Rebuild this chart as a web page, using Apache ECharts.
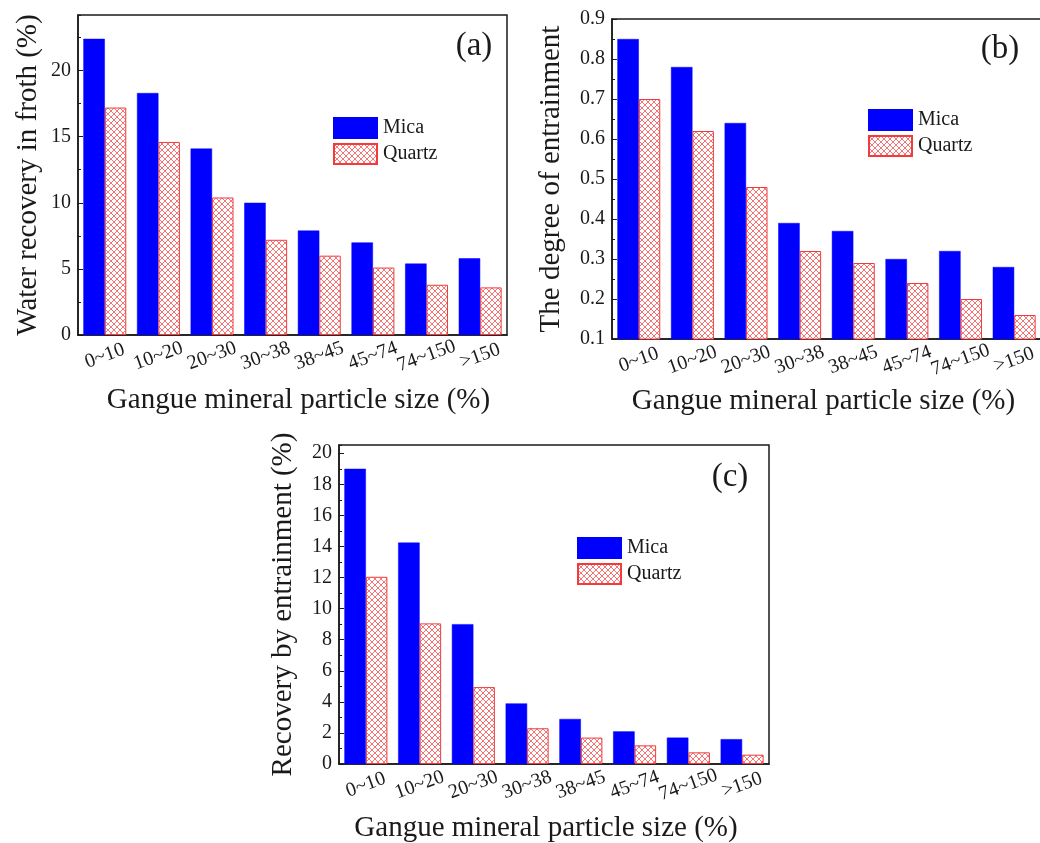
<!DOCTYPE html>
<html>
<head>
<meta charset="utf-8">
<script src="https://cdn.jsdelivr.net/npm/echarts@6/dist/echarts.min.js"></script>
<style>
  html, body { margin: 0; padding: 0; background: #fff; }
  #chart { width: 1040px; height: 843px; }
</style>
</head>
<body>
<div id="chart"></div>
<script>
// Particle size classes of the gangue minerals
const categories = ['0~10', '10~20', '20~30', '30~38', '38~45', '45~74', '74~150', '>150'];

// (a) Water recovery in froth (%)
const waterMica   = [22.4, 18.3, 14.1, 10.0, 7.9, 7.0, 5.4, 5.8];
const waterQuartz = [17.2, 14.6, 10.4, 7.2, 6.0, 5.1, 3.8, 3.6];

// (b) Degree of entrainment
const degreeMica   = [0.85, 0.78, 0.64, 0.39, 0.37, 0.30, 0.32, 0.28];
const degreeQuartz = [0.70, 0.62, 0.48, 0.32, 0.29, 0.24, 0.20, 0.16];

// (c) Recovery by entrainment (%)
const entrainMica   = [19.0, 14.25, 9.0, 3.9, 2.9, 2.1, 1.7, 1.6];
const entrainQuartz = [12.05, 9.05, 4.95, 2.3, 1.7, 1.2, 0.75, 0.6];

const panelTags = ['(a)', '(b)', '(c)'];
const yTitles = ['Water recovery in froth (%)', 'The degree of entrainment', 'Recovery by entrainment (%)'];
const xTitle = 'Gangue mineral particle size (%)';

const FONT = '"Liberation Serif", "Times New Roman", serif';
const INK = '#1a1a1a';
const BLUE = '#0000ff';
const RED = '#f03c3c';

// Red cross-hatch fill for the quartz bars
function hatch() {
  const s = 6;
  const c = document.createElement('canvas');
  c.width = s; c.height = s;
  const g = c.getContext('2d');
  g.fillStyle = '#fff';
  g.fillRect(0, 0, s, s);
  g.strokeStyle = 'rgba(238, 70, 70, 0.75)';
  g.lineWidth = 1;
  g.beginPath();
  g.moveTo(0, 0); g.lineTo(s, s);
  g.moveTo(s, 0); g.lineTo(0, s);
  g.moveTo(-s / 2, s / 2); g.lineTo(s / 2, s * 1.5);
  g.moveTo(s / 2, -s / 2); g.lineTo(s * 1.5, s / 2);
  g.moveTo(s / 2, -s / 2); g.lineTo(-s / 2, s / 2);
  g.moveTo(s * 1.5, s / 2); g.lineTo(s / 2, s * 1.5);
  g.stroke();
  return { image: c, repeat: 'repeat' };
}
const quartzFill = hatch();

// Plot-area rectangles (pixels) for the three panels
const grids = [
  { left: 78,  top: 15,  width: 429, height: 320 },
  { left: 612, top: 19,  width: 429, height: 320 },
  { left: 339, top: 445, width: 430, height: 319 }
];

const yRanges = [
  { min: 0,   max: 24.2,  major: 5,   minor: 2.5,  showMax: false, gap: 35 },
  { min: 0.1, max: 0.9,   major: 0.1, minor: 0.05, showMax: true,  gap: 46 },
  { min: 0,   max: 20.53, major: 2,   minor: 1,    showMax: false, gap: 41 }
];
// axis-title gap and horizontal nudge
const xNameGaps = [51, 48, 50];
const xNamePads = [[0, 0, 0, 12], [0, 6, 0, 0], [0, 16, 0, 0]];

const micaSets = [waterMica, degreeMica, entrainMica];
const quartzSets = [waterQuartz, degreeQuartz, entrainQuartz];

const legendPos = [
  { left: 333, top: 117 },
  { left: 868, top: 109 },
  { left: 577, top: 537 }
];
const tagPos = [
  { x: 474, y: 46 },
  { x: 1000, y: 49 },
  { x: 730, y: 477 }
];

const option = {
  backgroundColor: '#fff',
  animation: false,
  grid: [],
  xAxis: [],
  yAxis: [],
  legend: [],
  series: [],
  graphic: []
};

grids.forEach((g, i) => {
  option.grid.push(Object.assign({
    show: true, borderColor: INK, borderWidth: 1.5, backgroundColor: 'transparent',
    containLabel: false, outerBoundsMode: 'none'
  }, g));

  option.xAxis.push({
    type: 'category',
    gridIndex: i,
    data: categories,
    name: xTitle,
    nameLocation: 'middle',
    nameGap: xNameGaps[i],
    nameTextStyle: { fontFamily: FONT, fontSize: 29, color: INK, padding: xNamePads[i] },
    axisLine: { lineStyle: { color: INK, width: 1.5 } },
    axisTick: { inside: true, length: 4, lineStyle: { color: INK } },
    axisLabel: {
      interval: 0,
      rotate: 20, align: 'center', verticalAlign: 'middle', margin: 21,
      fontFamily: FONT, fontSize: 20, color: INK
    },
    splitLine: { show: false }
  });

  const r = yRanges[i];
  // labelled axis with the major ticks
  option.yAxis.push({
    type: 'value',
    gridIndex: i,
    position: 'left',
    min: r.min, max: r.max, interval: r.major,
    name: yTitles[i],
    nameLocation: 'middle',
    nameGap: r.gap,
    nameRotate: 90,
    nameTextStyle: { fontFamily: FONT, fontSize: 29, color: INK },
    axisLine: { show: true, lineStyle: { color: INK, width: 1.5 } },
    axisTick: { show: true, inside: true, length: 5, lineStyle: { color: INK } },
    axisLabel: {
      showMaxLabel: r.showMax, margin: 7,
      fontFamily: FONT, fontSize: 20, color: INK,
      formatter: v => (r.major < 1 ? v.toFixed(1) : String(Math.round(v)))
    },
    splitLine: { show: false }
  });
  // unlabelled companion axis carrying the minor ticks
  option.yAxis.push({
    type: 'value',
    gridIndex: i,
    position: 'left',
    offset: 0,
    min: r.min, max: r.max, interval: r.minor,
    axisLine: { show: false },
    axisTick: { show: true, inside: true, length: 3, lineStyle: { color: INK } },
    axisLabel: { show: false },
    splitLine: { show: false }
  });

  option.series.push({
    name: 'Mica',
    type: 'bar',
    xAxisIndex: i,
    yAxisIndex: i * 2,
    data: micaSets[i],
    barGap: '0%',
    barCategoryGap: '20%',
    itemStyle: { color: BLUE, borderColor: BLUE, borderWidth: 0.5 }
  });
  option.series.push({
    name: 'Quartz',
    type: 'bar',
    xAxisIndex: i,
    yAxisIndex: i * 2,
    data: quartzSets[i],
    barGap: '0%',
    barCategoryGap: '20%',
    itemStyle: { color: quartzFill, borderColor: RED, borderWidth: 1 }
  });

  option.legend.push(Object.assign({
    orient: 'vertical',
    data: ['Mica', 'Quartz'],
    icon: 'rect',
    itemWidth: 43,
    itemHeight: 20,
    itemGap: 4,
    selectedMode: false,
    padding: 0,
    textStyle: { fontFamily: FONT, fontSize: 20, color: INK, lineHeight: 20, padding: [0, 0, 0, 1] }
  }, legendPos[i]));

  option.graphic.push({
    type: 'text',
    x: tagPos[i].x,
    y: tagPos[i].y,
    style: {
      text: panelTags[i],
      font: '33px ' + FONT,
      fill: INK,
      textAlign: 'center',
      textVerticalAlign: 'middle'
    }
  });
});

const chart = echarts.init(document.getElementById('chart'), null, { renderer: 'canvas' });
chart.setOption(option);
</script>
</body>
</html>
